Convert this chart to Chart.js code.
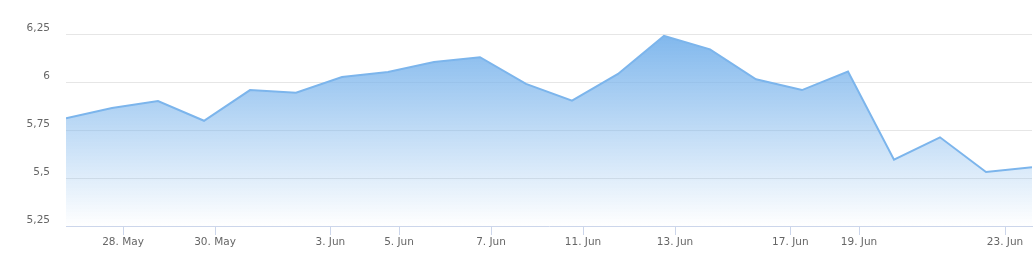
<!DOCTYPE html>
<html>
<head>
<meta charset="utf-8">
<script src="https://cdn.jsdelivr.net/npm/chart.js@4"></script>
<style>
  html, body { margin: 0; padding: 0; background: #fff; }
  #wrap { width: 1036px; height: 258px; }
</style>
</head>
<body>
<div id="wrap"><canvas id="myChart"></canvas></div>
<script>
// trading days (ordinal axis, weekends skipped)
const fechas = ['2019-05-24', '2019-05-27', '2019-05-28', '2019-05-29', '2019-05-30', '2019-05-31',
  '2019-06-03', '2019-06-04', '2019-06-05', '2019-06-06', '2019-06-07',
  '2019-06-10', '2019-06-11', '2019-06-12', '2019-06-13', '2019-06-14',
  '2019-06-17', '2019-06-18', '2019-06-19', '2019-06-20', '2019-06-21', '2019-06-24'];
const valores = [5.811, 5.865, 5.901, 5.798, 5.958, 5.944,
  6.026, 6.052, 6.104, 6.129, 5.990,
  5.903, 6.042, 6.240, 6.170, 6.014,
  5.958, 6.054, 5.595, 5.712, 5.531, 5.556];
const fechasTicks = ['2019-05-28', '2019-05-30', '2019-06-03', '2019-06-05', '2019-06-07',
  '2019-06-11', '2019-06-13', '2019-06-17', '2019-06-19', '2019-06-23'];
const meses = ['Jan', 'Feb', 'Mar', 'Apr', 'May', 'Jun', 'Jul', 'Aug', 'Sep', 'Oct', 'Nov', 'Dec'];

const HORA = 18.25; // time of day of each quote
const tiempos = fechas.map(f => Date.parse(f + 'T00:00:00Z') + HORA * 3600000);

// position of a midnight tick on the ordinal axis
function posicion(f) {
  const t = Date.parse(f + 'T00:00:00Z');
  for (let i = 0; i < tiempos.length - 1; i++) {
    if (t >= tiempos[i] && t <= tiempos[i + 1]) {
      return i + (t - tiempos[i]) / (tiempos[i + 1] - tiempos[i]);
    }
  }
  return 0;
}
const posTicks = fechasTicks.map(posicion);
const etiquetas = fechasTicks.map(f => {
  const d = new Date(f + 'T00:00:00Z');
  return d.getUTCDate() + '. ' + meses[d.getUTCMonth()];
});

const ctx = document.getElementById('myChart');
const myChart = new Chart(ctx, {
  type: 'line',
  data: {
    datasets: [{
      data: valores.map((v, i) => ({ x: i, y: v })),
      borderColor: '#7cb5ec',
      borderWidth: 2,
      pointRadius: 0,
      tension: 0,
      fill: 'start',
      backgroundColor: (c) => {
        const area = c.chart.chartArea;
        if (!area) return 'rgba(124,181,236,0.5)';
        const g = c.chart.ctx.createLinearGradient(0, area.top, 0, area.bottom);
        g.addColorStop(0, 'rgba(124,181,236,0.97)');
        g.addColorStop(1, 'rgba(124,181,236,0)');
        return g;
      }
    }]
  },
  options: {
    responsive: true,
    maintainAspectRatio: false,
    animation: false,
    layout: {
      padding: { left: 0, right: 4, top: 34, bottom: 0 }
    },
    plugins: {
      legend: { display: false },
      tooltip: { enabled: false }
    },
    scales: {
      x: {
        type: 'linear',
        min: 0,
        max: valores.length - 1,
        afterBuildTicks: (scale) => {
          scale.ticks = posTicks.map(v => ({ value: v }));
        },
        afterFit: (scale) => { scale.height = 32; },
        border: { display: true, color: '#ccd6eb', width: 1 },
        grid: {
          drawOnChartArea: false,
          drawTicks: true,
          tickLength: 9,
          color: '#ccd6eb'
        },
        ticks: {
          autoSkip: false,
          maxRotation: 0,
          padding: 1,
          color: '#666666',
          font: { family: 'DejaVu Sans', size: 10.5 },
          callback: (value, index) => etiquetas[index]
        }
      },
      y: {
        min: 5.25,
        max: 6.25,
        afterFit: (scale) => { scale.width = 66; },
        border: { display: false },
        grid: {
          drawTicks: false,
          color: (c) => (c.tick && c.tick.value === 5.25) ? 'rgba(0,0,0,0)' : '#e6e6e6'
        },
        ticks: {
          stepSize: 0.25,
          padding: 16,
          labelOffset: -6,
          color: '#666666',
          font: { family: 'DejaVu Sans', size: 10.5 },
          callback: (value) => String(value).replace('.', ',')
        }
      }
    }
  }
});
</script>
</body>
</html>
